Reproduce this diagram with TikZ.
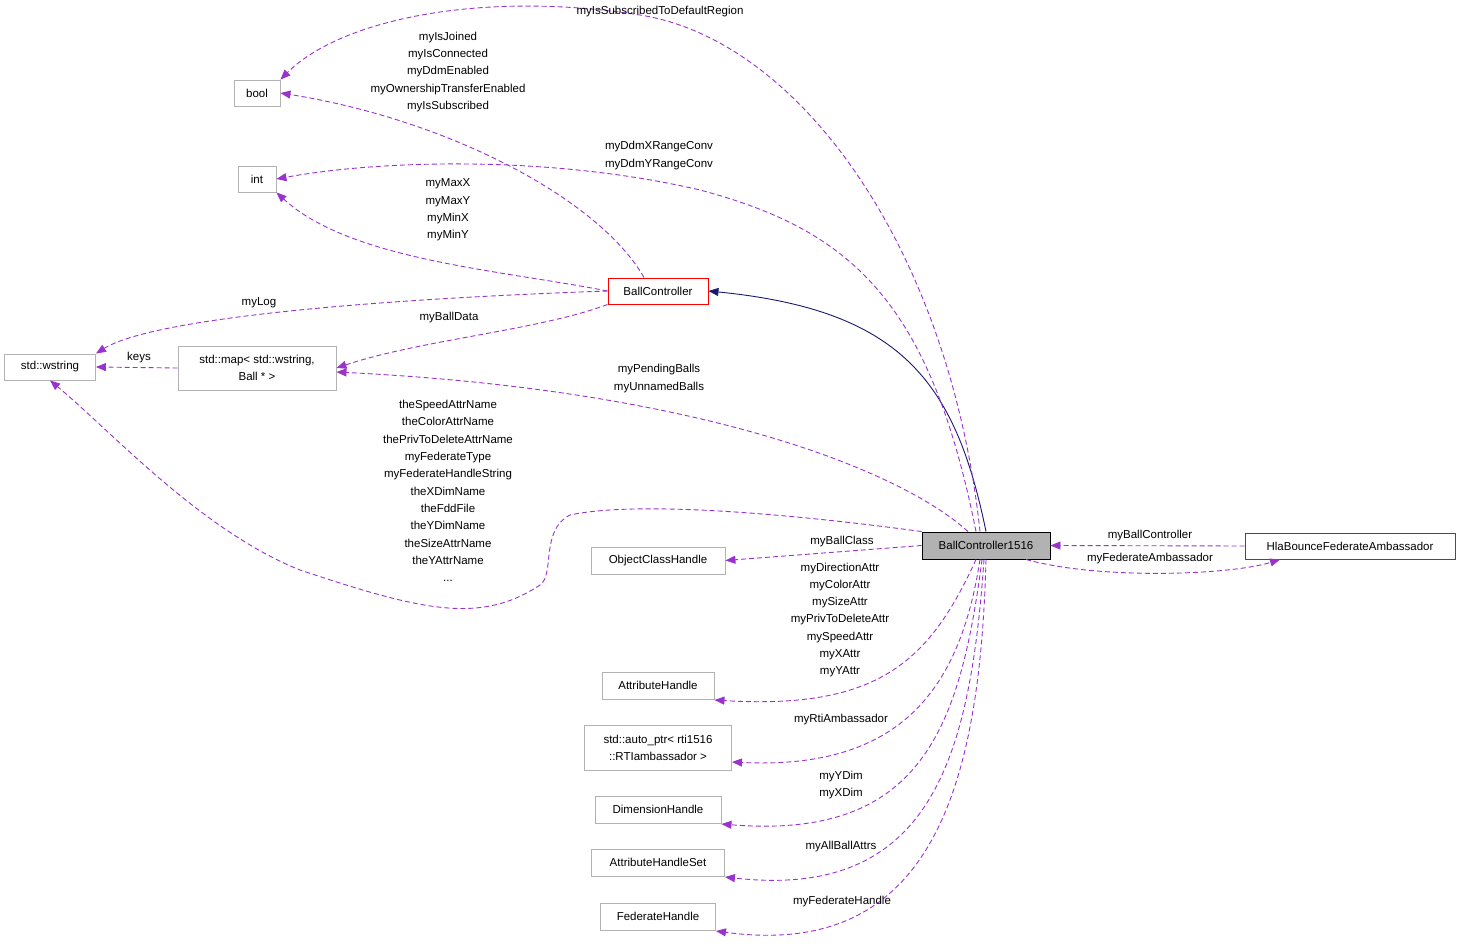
\documentclass[tikz,border=0pt]{standalone}
\usepackage{fontspec}
\setmainfont{Liberation Sans}
\usetikzlibrary{arrows.meta}
\definecolor{pur}{HTML}{9A32CD}
\definecolor{nav}{HTML}{191970}
\definecolor{rd}{HTML}{FF0000}
\begin{document}
\begin{tikzpicture}[x=1pt,y=-1pt,font=\fontsize{11.5}{17}\selectfont,line width=0.9pt,
 box/.style={draw=black!30,fill=white,inner sep=0pt,anchor=center,align=center},
 rbox/.style={box,draw=rd},
 dep/.style={draw=pur,dashed,dash pattern=on 5pt off 3pt,-{Triangle[length=10pt,width=8pt,fill=pur]}},
 lab/.style={align=center,font=\fontsize{11.5}{17.3}\selectfont,inner sep=0pt}]
\useasboundingbox (0,0) rectangle (1461,949);
\node[box,minimum width=46,minimum height=26] (bool) at (257,93) {bool};
\node[box,minimum width=38,minimum height=26] (int) at (257,179) {int};
\node[box,minimum width=91,minimum height=26] (ws) at (50,367) {std::wstring};
\node[box,minimum width=158,minimum height=44] (map) at (257,368) {std::map< std::wstring,\\Ball * >};
\node[rbox,minimum width=100,minimum height=26] (bc) at (658,291) {BallController};
\node[box,draw=black,fill=black!30,minimum width=128,minimum height=27] (bc16) at (986,545.5) {BallController1516};
\node[rbox,line width=1pt,minimum width=210,minimum height=26] (hla) at (1350,546) {HlaBounceFederateAmbassador};
\node[box,minimum width=134,minimum height=27] (och) at (658,560.5) {ObjectClassHandle};
\node[box,minimum width=112,minimum height=27] (ah) at (658,685.5) {AttributeHandle};
\node[box,minimum width=147,minimum height=45] (ap) at (658,747.5) {std::auto\_ptr< rti1516\\::RTIambassador >};
\node[box,minimum width=126,minimum height=27] (dh) at (658,809.5) {DimensionHandle};
\node[box,minimum width=133,minimum height=27] (ahs) at (658,862.5) {AttributeHandleSet};
\node[box,minimum width=115,minimum height=27] (fh) at (658,916.5) {FederateHandle};

\draw[nav,-{Triangle[length=10pt,width=8pt]}] (bc16.north) .. controls (955,380) and (900,310) .. (bc.east);
\draw[dep] ([xshift=-6pt]bc16.north) .. controls (950,250) and (800,40) .. (640,15) .. controls (480,-10) and (340,20) .. (bool.north east);
\draw[dep] ([xshift=-14pt]bc.north) .. controls (600,200) and (450,120) .. (bool.east);
\draw[dep] ([xshift=-10pt]bc16.north) .. controls (930,300) and (850,230) .. (700,190) .. controls (550,155) and (380,160) .. (int.east);
\draw[dep] (bc.west) .. controls (500,270) and (350,260) .. (int.south east);
\draw[dep] (bc.west) .. controls (350,300) and (150,320) .. (ws.north east);
\draw[dep] (bc.south west) .. controls (540,330) and (420,340) .. (map.east);
\draw[dep] (map.west) -- (ws.east);
\draw[dep] ([xshift=-18pt]bc16.north) .. controls (900,470) and (700,390) .. (map.east|-0,372);
\draw[dep] (bc16.north west) .. controls (800,515) and (640,500) .. (570,515) .. controls (540,530) and (555,575) .. (540,585) .. controls (480,625) and (420,610) .. (300,570) .. controls (200,530) and (110,430) .. (ws.south);
\draw[dep] (bc16.west) -- (och.east);
\draw[dep] (hla.west) -- (bc16.east);
\draw[dep] ([xshift=40pt]bc16.south) .. controls (1100,580) and (1230,575) .. ([xshift=-70pt]hla.south);
\draw[dep] ([xshift=-10pt]bc16.south) .. controls (930,660) and (880,710) .. (ah.east|-0,700);
\draw[dep] ([xshift=-6pt]bc16.south) .. controls (960,690) and (900,770) .. (ap.east|-0,762);
\draw[dep] ([xshift=-4pt]bc16.south) .. controls (960,730) and (920,840) .. (dh.east|-0,824);
\draw[dep] ([xshift=-2pt]bc16.south) .. controls (970,760) and (930,900) .. (ahs.east|-0,877);
\draw[dep] (bc16.south) .. controls (980,790) and (930,960) .. (fh.east|-0,931);

\node[lab] (l1) at (660,12) {myIsSubscribedToDefaultRegion};
\node[lab] (l2) at (448,72) {myIsJoined\\myIsConnected\\myDdmEnabled\\myOwnershipTransferEnabled\\myIsSubscribed};
\node[lab] (l3) at (659,155.5) {myDdmXRangeConv\\myDdmYRangeConv};
\node[lab] (l4) at (448,210) {myMaxX\\myMaxY\\myMinX\\myMinY};
\node[lab] (l5) at (259,303) {myLog};
\node[lab] (l6) at (449,318) {myBallData};
\node[lab] (l7) at (139,358) {keys};
\node[lab] (l8) at (659,378.5) {myPendingBalls\\myUnnamedBalls};
\node[lab] (l9) at (448,491) {theSpeedAttrName\\theColorAttrName\\thePrivToDeleteAttrName\\myFederateType\\myFederateHandleString\\theXDimName\\theFddFile\\theYDimName\\theSizeAttrName\\theYAttrName\\...};
\node[lab] (l10) at (842,542) {myBallClass};
\node[lab] (l11) at (1150,536) {myBallController};
\node[lab] (l12) at (1150,559) {myFederateAmbassador};
\node[lab] (l13) at (840,620) {myDirectionAttr\\myColorAttr\\mySizeAttr\\myPrivToDeleteAttr\\mySpeedAttr\\myXAttr\\myYAttr};
\node[lab] (l14) at (841,720) {myRtiAmbassador};
\node[lab] (l15) at (841,785) {myYDim\\myXDim};
\node[lab] (l16) at (841,847) {myAllBallAttrs};
\node[lab] (l17) at (842,902) {myFederateHandle};
\end{tikzpicture}
\end{document}
